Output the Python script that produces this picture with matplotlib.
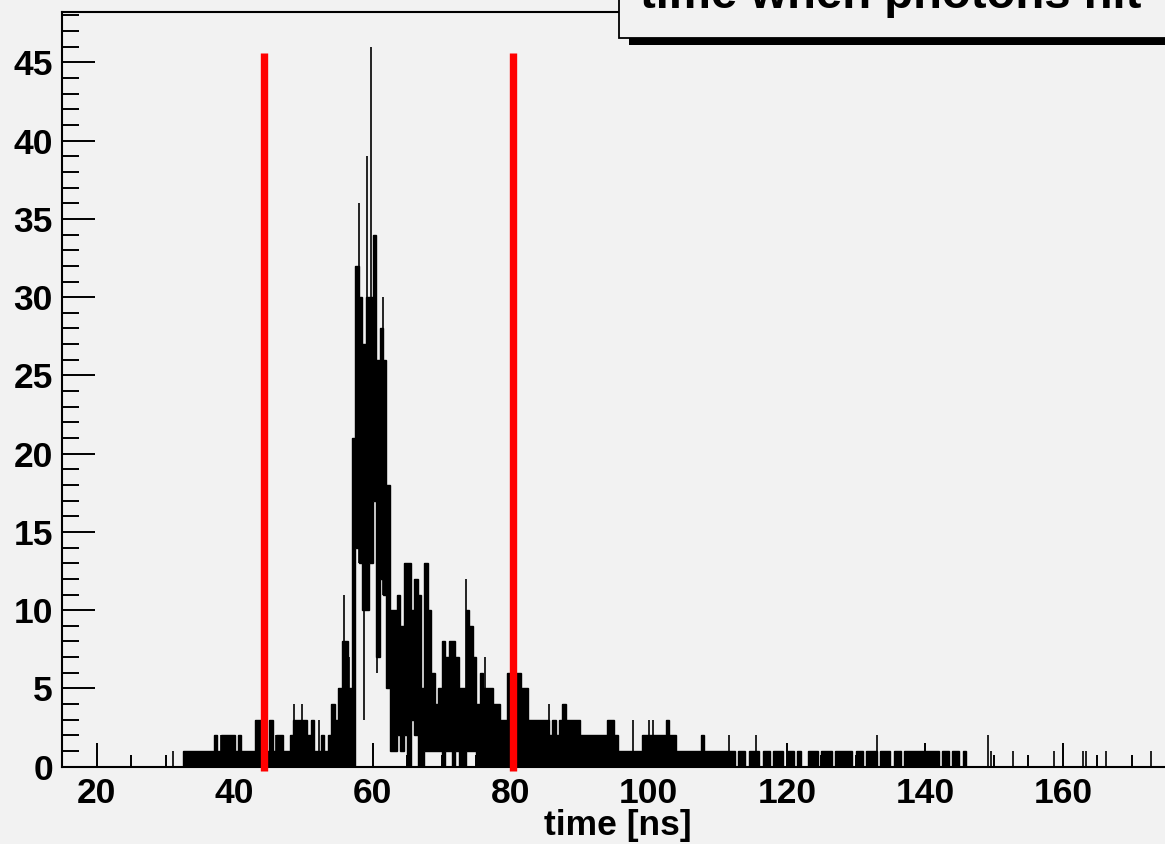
import numpy as np
import matplotlib
matplotlib.use("Agg")
import matplotlib.pyplot as plt
from matplotlib.patches import Rectangle
from matplotlib.ticker import MultipleLocator

plt.rcParams['font.family'] = ['Liberation Sans', 'DejaVu Sans']
plt.rcParams['font.weight'] = 'bold'

# ---------------- data ----------------
title_text = "time when photons hit"
x_label = "time [ns]"

# dense part of the histogram: 0.5 ns wide bins starting at 32.5 ns
bin_start = 32.5
bin_width = 0.5
band_hi = [
    1, 1, 1, 1, 1, 1, 1, 1, 1,                # 32.5 - 37.0
    2, 1, 2, 2, 2, 2, 1, 2, 1, 1,             # 37.0 - 42.0
    1, 1, 3, 3, 1, 1, 3, 1, 2, 2,             # 42.0 - 47.0
    1, 1, 2, 3, 3, 3, 3, 2, 3, 1,             # 47.0 - 52.0
    1, 2, 1, 2, 4, 3, 5, 8, 8, 5,             # 52.0 - 57.0
    21, 32, 30, 27, 30, 30, 34, 26, 28, 26,   # 57.0 - 62.0
    18, 10, 10, 11, 9, 13, 13, 10, 12, 11,    # 62.0 - 67.0
    5, 13, 10, 6, 4, 5, 8, 7, 8, 8,           # 67.0 - 72.0
    7, 5, 5, 10, 9, 7, 4, 6, 5, 5,            # 72.0 - 77.0
    5, 4, 4, 3, 3, 6, 6, 6, 6, 5,             # 77.0 - 82.0
    5, 3, 3, 3, 3, 3, 3, 2, 3, 2,             # 82.0 - 87.0
    3, 4, 3, 3, 3, 3, 2, 2, 2, 2,             # 87.0 - 92.0
    2, 2, 2, 2, 3, 3, 2, 1, 1, 1,             # 92.0 - 97.0
    1, 1, 1, 1, 2, 2, 2, 2, 2, 2,             # 97.0 - 102.0
    2, 3, 2, 2, 1, 1, 1, 1, 1, 1,             # 102.0 - 107.0
    1, 2, 1, 1, 1, 1, 1, 1, 1, 1,             # 107.0 - 112.0
    1, 0, 1, 1, 0, 1, 1, 1, 0, 1,             # 112.0 - 117.0
    1, 0, 1, 1, 1, 0, 1, 1, 0, 1,             # 117.0 - 122.0
    0, 0, 1, 1, 1, 0, 1, 1, 1, 0,             # 122.0 - 127.0
    1, 1, 1, 1, 1, 0, 1, 1, 0, 1,             # 127.0 - 132.0
    1, 1, 0, 1, 1, 1, 0, 1, 1, 0,             # 132.0 - 137.0
    1, 1, 1, 1, 1, 1, 1, 1, 1, 1,             # 137.0 - 142.0
    0, 1, 1, 0, 1, 1, 0, 1,                   # 142.0 - 146.0
]
# lower edge of the dense band (non-zero only under the peak)
lo_start = 57.5
band_lo_peak = [14, 13, 10, 10, 13, 17, 7, 12, 11, 5,
                1, 1, 2, 1, 2, 0, 3, 2, 0, 0,
                1, 1, 1, 1, 1, 0, 1, 1, 0, 1,
                0, 0, 1, 1, 1]

# single narrow bins standing out of the band
spike_t = [31.1, 37.1, 37.5, 38.1, 46.0, 46.7, 48.6, 49.75, 52.3, 55.8, 56.6,
           58.0, 59.2, 59.8, 61.5, 73.5, 76.3, 85.5, 97.7, 100.1, 100.6,
           111.6, 115.6, 133.1, 149.2, 149.6, 152.7, 158.7, 162.9, 163.3,
           166.3, 172.8]
spike_h = [1, 2, 2, 2, 2, 2, 4, 4, 3, 11, 7,
           36, 39, 46, 30, 12, 7, 4, 3, 3, 3,
           2, 2, 2, 2, 1, 1, 1, 1, 1,
           1, 1]
# narrow bins dipping below the band
dip_t = [58.8, 60.6]
dip_v = [3, 6]

# vertical red marker lines
cut_t = [44.3, 80.4]
cut_top = 45.6

# ---------------- figure ----------------
W, H = 1165, 844
bg = '#f2f2f2'
fig = plt.figure(figsize=(W / 100, H / 100), dpi=100, facecolor=bg)

ax_left = 62 / W
ax_bottom = (H - 766.7) / H
ax_height = (766.7 - 12.3) / H
x_min, x_max = 15.0, 176.0
px_per_ns = 6.903
ax_width = (x_max - x_min) * px_per_ns / W
ax = fig.add_axes([ax_left, ax_bottom, ax_width, ax_height], facecolor=bg)

edges = bin_start + bin_width * np.arange(len(band_hi) + 1)
hi = np.array(band_hi, dtype=float)
lo = np.zeros_like(hi)
i0 = int(round((lo_start - bin_start) / bin_width))
lo[i0:i0 + len(band_lo_peak)] = band_lo_peak

ax.stairs(hi, edges, baseline=lo, fill=True, color='black', lw=0, zorder=2)
ax.stairs(hi, edges, baseline=lo, fill=False, color='black', lw=1.0, zorder=2)


def band_bottom(t):
    k = int(np.floor((t - bin_start) / bin_width))
    if 0 <= k < len(lo):
        return lo[k]
    return 0.0


spike_bottom = [band_bottom(t) for t in spike_t]
ax.vlines(spike_t, spike_bottom, spike_h, colors='black', lw=1.2, zorder=2)
dip_top = [band_bottom(t) for t in dip_t]
ax.vlines(dip_t, dip_v, dip_top, colors='black', lw=1.2, zorder=2)

for t in cut_t:
    ax.plot([t, t], [-0.3, cut_top], color='#ff0000', lw=5.3,
            solid_capstyle='butt', zorder=4, clip_on=False)

ax.set_xlim(x_min, x_max)
ax.set_ylim(0, 48.2)

ax.xaxis.set_major_locator(MultipleLocator(20))
ax.xaxis.set_minor_locator(MultipleLocator(5))
ax.yaxis.set_major_locator(MultipleLocator(5))
ax.yaxis.set_minor_locator(MultipleLocator(1))

ax.tick_params(axis='x', which='major', direction='in', length=17.3, width=1.4,
               pad=7.5, labelsize=25.5, top=False)
ax.tick_params(axis='x', which='minor', direction='in', length=8.6, width=1.4,
               top=False)
ax.tick_params(axis='y', which='major', direction='in', length=23.8, width=1.4,
               pad=6.5, labelsize=25.5, right=False)
ax.tick_params(axis='y', which='minor', direction='in', length=12.2, width=1.4,
               right=False)
for lab in ax.get_xticklabels() + ax.get_yticklabels():
    lab.set_fontweight('bold')

for s in ax.spines.values():
    s.set_linewidth(1.5)
    s.set_color('black')

ax.set_xlabel(x_label, fontsize=25.5, fontweight='bold', va='center')
ax.xaxis.set_label_coords(0.5, -(826 - 766.7) / (766.7 - 12.3))

# title box with shadow (partially outside the canvas)
shadow = Rectangle((629 / W, 1 - 45 / H), 1.0, 8 / H, transform=fig.transFigure,
                   facecolor='black', edgecolor='none', zorder=5)
box = Rectangle((619 / W, 1 - 38 / H), 1.0, 0.2, transform=fig.transFigure,
                facecolor=bg, edgecolor='black', lw=1.3, zorder=6)
fig.patches.extend([shadow, box])
fig.text(640 / W, 1 - 8 / H, title_text, fontsize=34, fontweight='bold',
         ha='left', va='baseline', zorder=7)

fig.savefig('out.png', dpi=100, facecolor=bg)
